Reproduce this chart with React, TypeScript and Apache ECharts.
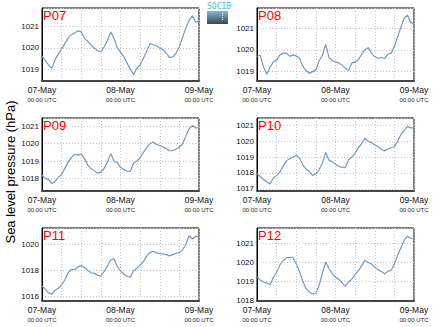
import React, { useEffect, useRef } from "react";
import * as echarts from "echarts";

// Hourly sea level pressure (hPa), 07-May 00:00 UTC to 09-May 00:00 UTC
const hours = Array.from({ length: 49 }, (_, i) => i);

const p07 = [1019.61, 1019.4, 1019.2, 1019.05, 1019.45, 1019.72, 1019.95, 1020.2, 1020.48, 1020.62, 1020.7, 1020.8, 1020.75, 1020.45, 1020.3, 1020.13, 1019.98, 1019.88, 1019.82, 1020.05, 1020.35, 1020.75, 1020.45, 1020.0, 1019.8, 1019.6, 1019.3, 1019.0, 1018.75, 1019.05, 1019.2, 1019.5, 1019.85, 1020.2, 1020.15, 1020.1, 1020.0, 1019.92, 1019.75, 1019.55, 1019.58, 1019.75, 1020.05, 1020.5, 1020.95, 1021.3, 1021.5, 1021.2, 1021.27];
const p08 = [1019.7, 1019.75, 1019.2, 1018.88, 1019.2, 1019.45, 1019.54, 1019.77, 1019.85, 1019.85, 1019.7, 1019.77, 1019.72, 1019.6, 1019.25, 1019.05, 1018.92, 1019.0, 1019.08, 1019.5, 1019.75, 1020.25, 1019.65, 1019.5, 1019.45, 1019.4, 1019.3, 1019.15, 1019.05, 1019.4, 1019.45, 1019.55, 1019.8, 1020.0, 1020.1, 1019.85, 1019.68, 1019.62, 1019.65, 1019.6, 1019.8, 1019.85, 1020.15, 1020.6, 1021.05, 1021.45, 1021.6, 1021.25, 1021.2];
const p09 = [1018.2, 1018.02, 1017.95, 1017.72, 1017.85, 1018.08, 1018.25, 1018.6, 1018.95, 1019.22, 1019.4, 1019.35, 1019.42, 1019.15, 1018.78, 1018.58, 1018.45, 1018.32, 1018.38, 1018.6, 1018.95, 1019.45, 1019.0, 1018.92, 1018.65, 1018.52, 1018.44, 1018.42, 1018.9, 1019.0, 1019.2, 1019.5, 1019.78, 1020.0, 1020.1, 1019.96, 1019.9, 1019.83, 1019.72, 1019.6, 1019.6, 1019.7, 1019.8, 1020.0, 1020.45, 1020.85, 1021.05, 1020.9, 1020.92];
const p10 = [1017.96, 1017.78, 1017.58, 1017.45, 1017.3, 1017.68, 1017.85, 1018.05, 1018.45, 1018.75, 1018.92, 1019.0, 1019.12, 1018.95, 1018.52, 1018.25, 1018.1, 1017.85, 1017.95, 1018.22, 1018.62, 1019.3, 1018.8, 1018.72, 1018.55, 1018.43, 1018.35, 1018.34, 1018.85, 1019.0, 1019.25, 1019.6, 1019.85, 1020.2, 1020.0, 1019.92, 1019.78, 1019.66, 1019.5, 1019.4, 1019.52, 1019.6, 1019.68, 1020.0, 1020.45, 1020.7, 1020.95, 1020.85, 1020.85];
const p11 = [1016.77, 1016.55, 1016.25, 1016.15, 1016.45, 1016.6, 1016.85, 1017.25, 1017.8, 1018.05, 1018.05, 1018.25, 1018.35, 1018.2, 1017.98, 1017.8, 1017.75, 1017.6, 1017.55, 1017.9, 1018.3, 1018.8, 1018.85, 1018.3, 1017.95, 1017.7, 1017.52, 1017.45, 1017.95, 1018.15, 1018.4, 1018.65, 1019.1, 1019.35, 1019.45, 1019.33, 1019.28, 1019.25, 1019.2, 1019.1, 1019.2, 1019.3, 1019.35, 1019.55, 1020.0, 1020.65, 1020.4, 1020.6, 1020.56];
const p12 = [1019.22, 1019.05, 1018.95, 1018.9, 1018.8, 1019.2, 1019.45, 1019.85, 1020.08, 1020.22, 1020.25, 1020.23, 1019.9, 1019.5, 1019.0, 1018.6, 1018.42, 1018.32, 1018.35, 1018.78, 1019.4, 1020.0, 1019.66, 1019.4, 1019.2, 1019.1, 1018.9, 1018.72, 1018.95, 1019.1, 1019.35, 1019.55, 1019.8, 1020.1, 1019.98, 1019.9, 1019.72, 1019.6, 1019.5, 1019.38, 1019.52, 1019.55, 1019.9, 1020.35, 1020.75, 1021.15, 1021.35, 1021.25, 1021.23];

const stationNames = ["P07", "P08", "P09", "P10", "P11", "P12"];
const stationSeries = [p07, p08, p09, p10, p11, p12];
const yMins = [1018.45, 1018.57, 1017.3, 1016.86, 1015.62, 1017.95];
const yMaxs = [1021.87, 1021.92, 1021.47, 1021.48, 1021.25, 1021.79];
const ySteps = [1, 1, 1, 1, 2, 1];
const dayLabels: Record<number, string> = { 0: "07-May", 24: "08-May", 48: "09-May" };
const timeLabel = "00:00 UTC";
const yTitle = "Sea level pressure (hPa)";

const FONT = "Liberation Sans, Arial, Helvetica, sans-serif";

export default function App() {
  const ref = useRef<HTMLDivElement>(null);
  useEffect(() => {
    if (!ref.current) return;
    const chart = echarts.init(ref.current, undefined, { renderer: "svg" });
    const colLeft = [42, 257];
    const rowTop = [8, 118, 228];
    const W = 157;
    const H = 73;
    const grids: any[] = [];
    const xAxes: any[] = [];
    const yAxes: any[] = [];
    const series: any[] = [];
    const titles: any[] = [];
    stationNames.forEach((name, i) => {
      const left = colLeft[i % 2];
      const top = rowTop[Math.floor(i / 2)];
      grids.push({
        left, top, width: W, height: H,
        show: true, borderColor: "#000", borderWidth: 1, backgroundColor: "transparent",
      });
      xAxes.push({
        type: "value", gridIndex: i, min: 0, max: 48, interval: 6,
        axisLine: { show: true, onZero: false, lineStyle: { color: "#444", width: 2 } },
        axisTick: { show: false },
        splitLine: { show: true, lineStyle: { color: "#c4c4c4", type: [1, 2], width: 1 } },
        axisLabel: {
          margin: 4,
          formatter: (v: number) => (dayLabels[v] ? `{a|${dayLabels[v]}}\n{b|${timeLabel}}` : ""),
          rich: {
            a: { fontSize: 8.5, fontFamily: FONT, color: "#111", lineHeight: 10, align: "center" },
            b: { fontSize: 6, fontFamily: FONT, color: "#222", lineHeight: 10, align: "center" },
          },
        },
      });
      yAxes.push({
        type: "value", gridIndex: i, min: yMins[i], max: yMaxs[i],
        minInterval: ySteps[i], maxInterval: ySteps[i],
        axisLine: { show: true, lineStyle: { color: "#000", width: 1 } },
        axisTick: { show: false },
        splitLine: { show: true, lineStyle: { color: "#c4c4c4", type: [1, 2], width: 1 } },
        axisLabel: {
          margin: 3, fontSize: 8, fontFamily: FONT, color: "#111",
          showMinLabel: false, showMaxLabel: false,
          formatter: (v: number) => (Math.abs(v - Math.round(v)) < 1e-6 ? String(Math.round(v)) : ""),
        },
      });
      series.push({
        type: "line", xAxisIndex: i, yAxisIndex: i,
        data: hours.map((h, k) => [h, stationSeries[i][k]]),
        showSymbol: false, symbol: "none",
        lineStyle: { color: "#6e9bc5", width: 1.2 },
        clip: true,
      });
      titles.push({
        text: name, left: left + 1, top: top + 1, padding: 0,
        textStyle: { color: "#ff0000", fontSize: 13, fontWeight: "normal", fontFamily: FONT },
      });
    });

    chart.setOption({
      animation: false,
      backgroundColor: "#fff",
      title: titles,
      grid: grids,
      xAxis: xAxes,
      yAxis: yAxes,
      series,
      graphic: [
        {
          type: "text", x: 10, y: 172, rotation: Math.PI / 2,
          style: { text: yTitle, fontSize: 13, fontFamily: FONT, fill: "#000", align: "center", verticalAlign: "middle" },
        },
        {
          type: "text", x: 207, y: 2,
          style: { text: "SOCIB", fontSize: 8, fontFamily: "DejaVu Sans Mono, monospace", fill: "#3fbfd6" },
        },
        {
          type: "rect", shape: { x: 207, y: 11, width: 21, height: 13 },
          style: {
            fill: new echarts.graphic.LinearGradient(0, 0, 0, 1, [
              { offset: 0, color: "#86b7cc" },
              { offset: 1, color: "#3a4654" },
            ]),
          },
        },
        {
          type: "line", shape: { x1: 222.5, y1: 13, x2: 222.5, y2: 21 },
          style: { stroke: "#ffffff", lineWidth: 1, lineDash: [1, 1] },
        },
      ],
    });
    return () => chart.dispose();
  }, []);
  return <div ref={ref} style={{ position: "fixed", left: 0, top: 0, width: 434, height: 327 }} />;
}
